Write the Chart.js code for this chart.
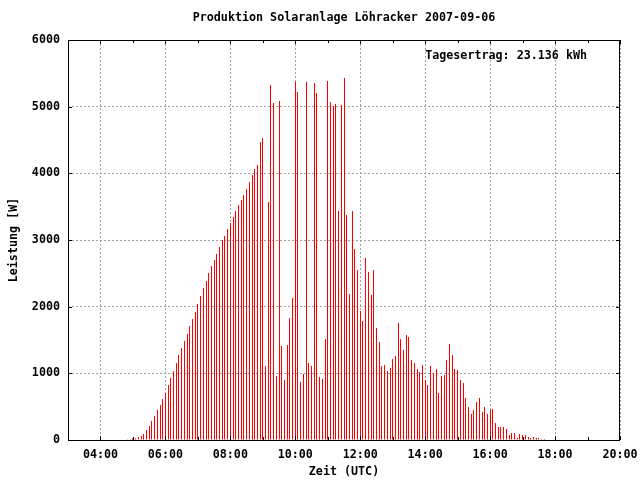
<!DOCTYPE html>
<html lang="de">
<head>
<meta charset="UTF-8">
<title>Produktion Solaranlage Löhracker 2007-09-06</title>
<script src="https://cdn.jsdelivr.net/npm/chart.js"></script>
<style>
  html, body { margin: 0; padding: 0; background: #fff; }
  #wrap { width: 640px; height: 480px; }
</style>
</head>
<body>
<div id="wrap"><canvas id="solarChart" width="640" height="480"></canvas></div>
<script>
const chartTitle = 'Produktion Solaranlage Löhracker 2007-09-06';
const dailyYield = 'Tagesertrag: 23.136 kWh';
const xTitle = 'Zeit (UTC)';
const yTitle = 'Leistung [W]';

// one sample every 5 minutes, first one at 04:50
const firstSampleHour = 4 + 50 / 60;
const sampleStepMin = 5;

// power in W
const powerW = [
  10, 10, 25, 25, 45, 60, 90, 150, 210, 285,
  360, 450, 525, 615, 705, 825, 930, 1030, 1155, 1275,
  1380, 1485, 1590, 1710, 1815, 1920, 2040, 2160, 2280, 2385,
  2505, 2610, 2700, 2790, 2895, 3000, 3060, 3165, 3255, 3345,
  3435, 3525, 3600, 3675, 3765, 3870, 3975, 4065, 4125, 4470,
  4530, 1110, 3570, 5325, 5055, 960, 5085, 1410, 900, 1425,
  1830, 2130, 5370, 5220, 870, 990, 5370, 1155, 1110, 5355,
  5205, 945, 915, 1515, 5385, 5070, 5010, 5040, 3435, 5025,
  5430, 3375, 2190, 3435, 2865, 2550, 1935, 1785, 2730, 2520,
  2175, 2550, 1680, 1470, 1110, 1125, 1035, 1080, 1215, 1260,
  1755, 1515, 1350, 1575, 1545, 1200, 1155, 1065, 1020, 1125,
  900, 825, 1110, 1005, 1065, 705, 960, 975, 1200, 1440,
  1275, 1065, 1050, 900, 855, 630, 495, 390, 450, 570,
  630, 420, 495, 390, 450, 465, 255, 195, 195, 195,
  165, 75, 105, 105, 30, 90, 75, 75, 45, 30,
  45, 30, 30, 15, 15
];

const hourTicks = [4, 5, 6, 7, 8, 9, 10, 11, 12, 13, 14, 15, 16, 17, 18, 19, 20];
const labeledHours = [4, 6, 8, 10, 12, 14, 16, 18, 20];
const powerTicks = [0, 1000, 2000, 3000, 4000, 5000, 6000];

const monoFont = { family: 'DejaVu Sans Mono', size: 11.7, weight: 'bold', lineHeight: 1.2 };
const gridGray = '#a0a0a0';

const points = powerW.map((w, i) => ({ x: firstSampleHour + i * sampleStepMin / 60, y: w }));

function hourLabel(h) {
    return String(h).padStart(2, '0') + ':00';
}

// gnuplot style frame with inward ticks and the yield label
const framePlugin = {
    id: 'frame',
    beforeDatasetsDraw(chart) {
        // snap the 1px impulses to whole pixels
        chart.getDatasetMeta(0).data.forEach(bar => {
            bar.x = Math.floor(bar.x) + 0.5;
        });
    },
    afterDraw(chart) {
        const { ctx, chartArea: a, scales } = chart;
        ctx.save();
        ctx.strokeStyle = '#000';
        ctx.lineWidth = 1;
        ctx.strokeRect(Math.round(a.left) + 0.5, Math.round(a.top) + 0.5,
            Math.round(a.right - a.left) - 1, Math.round(a.bottom - a.top));
        ctx.beginPath();
        hourTicks.forEach(h => {
            const px = Math.round(scales.x.getPixelForValue(h)) + 0.5;
            const len = labeledHours.includes(h) ? 4 : 3;
            ctx.moveTo(px, a.bottom);
            ctx.lineTo(px, a.bottom - len);
            ctx.moveTo(px, a.top);
            ctx.lineTo(px, a.top + len);
        });
        powerTicks.forEach(v => {
            const py = Math.round(scales.y.getPixelForValue(v)) + 0.5;
            ctx.moveTo(a.left, py);
            ctx.lineTo(a.left + 4, py);
            ctx.moveTo(a.right, py);
            ctx.lineTo(a.right - 4, py);
        });
        ctx.stroke();
        ctx.font = 'bold 11.7px "DejaVu Sans Mono"';
        ctx.fillStyle = '#000';
        ctx.textAlign = 'right';
        ctx.textBaseline = 'middle';
        ctx.fillText(dailyYield, a.right - 33, a.top + 16);
        ctx.restore();
    }
};

new Chart(document.getElementById('solarChart'), {
    type: 'bar',
    data: {
        datasets: [{
            data: points,
            backgroundColor: '#ff0000',
            borderWidth: 0,
            barThickness: 1,
            inflateAmount: 0
        }]
    },
    options: {
        responsive: false,
        animation: false,
        layout: { padding: { left: 0, right: 20, top: 0, bottom: 0 } },
        plugins: {
            legend: { display: false },
            tooltip: { enabled: false },
            title: {
                display: true,
                text: chartTitle,
                fullSize: false,
                color: '#000',
                font: monoFont,
                padding: { top: 11, bottom: 15 }
            }
        },
        scales: {
            x: {
                type: 'linear',
                min: 3,
                max: 20,
                offset: false,
                afterBuildTicks: s => { s.ticks = hourTicks.map(v => ({ value: v })); },
                afterFit: s => {
                    s.height = 40;
                    // let the 20:00 label run past the frame like gnuplot does
                    s.paddingLeft = 0;
                    s.paddingRight = 0;
                },
                ticks: {
                    autoSkip: false,
                    maxRotation: 0,
                    padding: 8,
                    color: '#000',
                    font: monoFont,
                    callback: v => labeledHours.includes(v) ? hourLabel(v) : ''
                },
                grid: {
                    offset: false,
                    drawTicks: false,
                    color: c => (c.tick && labeledHours.includes(c.tick.value)) ? gridGray : 'rgba(0,0,0,0)'
                },
                border: { display: false, dash: [2, 2] },
                title: {
                    display: true,
                    text: xTitle,
                    color: '#000',
                    font: monoFont,
                    padding: { top: 0, bottom: 1 }
                }
            },
            y: {
                min: 0,
                max: 6000,
                afterBuildTicks: s => { s.ticks = powerTicks.map(v => ({ value: v })); },
                afterFit: s => { s.width = 68; },
                ticks: {
                    padding: 8,
                    color: '#000',
                    font: monoFont,
                    callback: v => String(v)
                },
                grid: { drawTicks: false, color: gridGray },
                border: { display: false, dash: [2, 2] },
                title: {
                    display: true,
                    text: yTitle,
                    color: '#000',
                    font: monoFont,
                    padding: { top: 7, bottom: 0 }
                }
            }
        }
    },
    plugins: [framePlugin]
});
</script>
</body>
</html>
